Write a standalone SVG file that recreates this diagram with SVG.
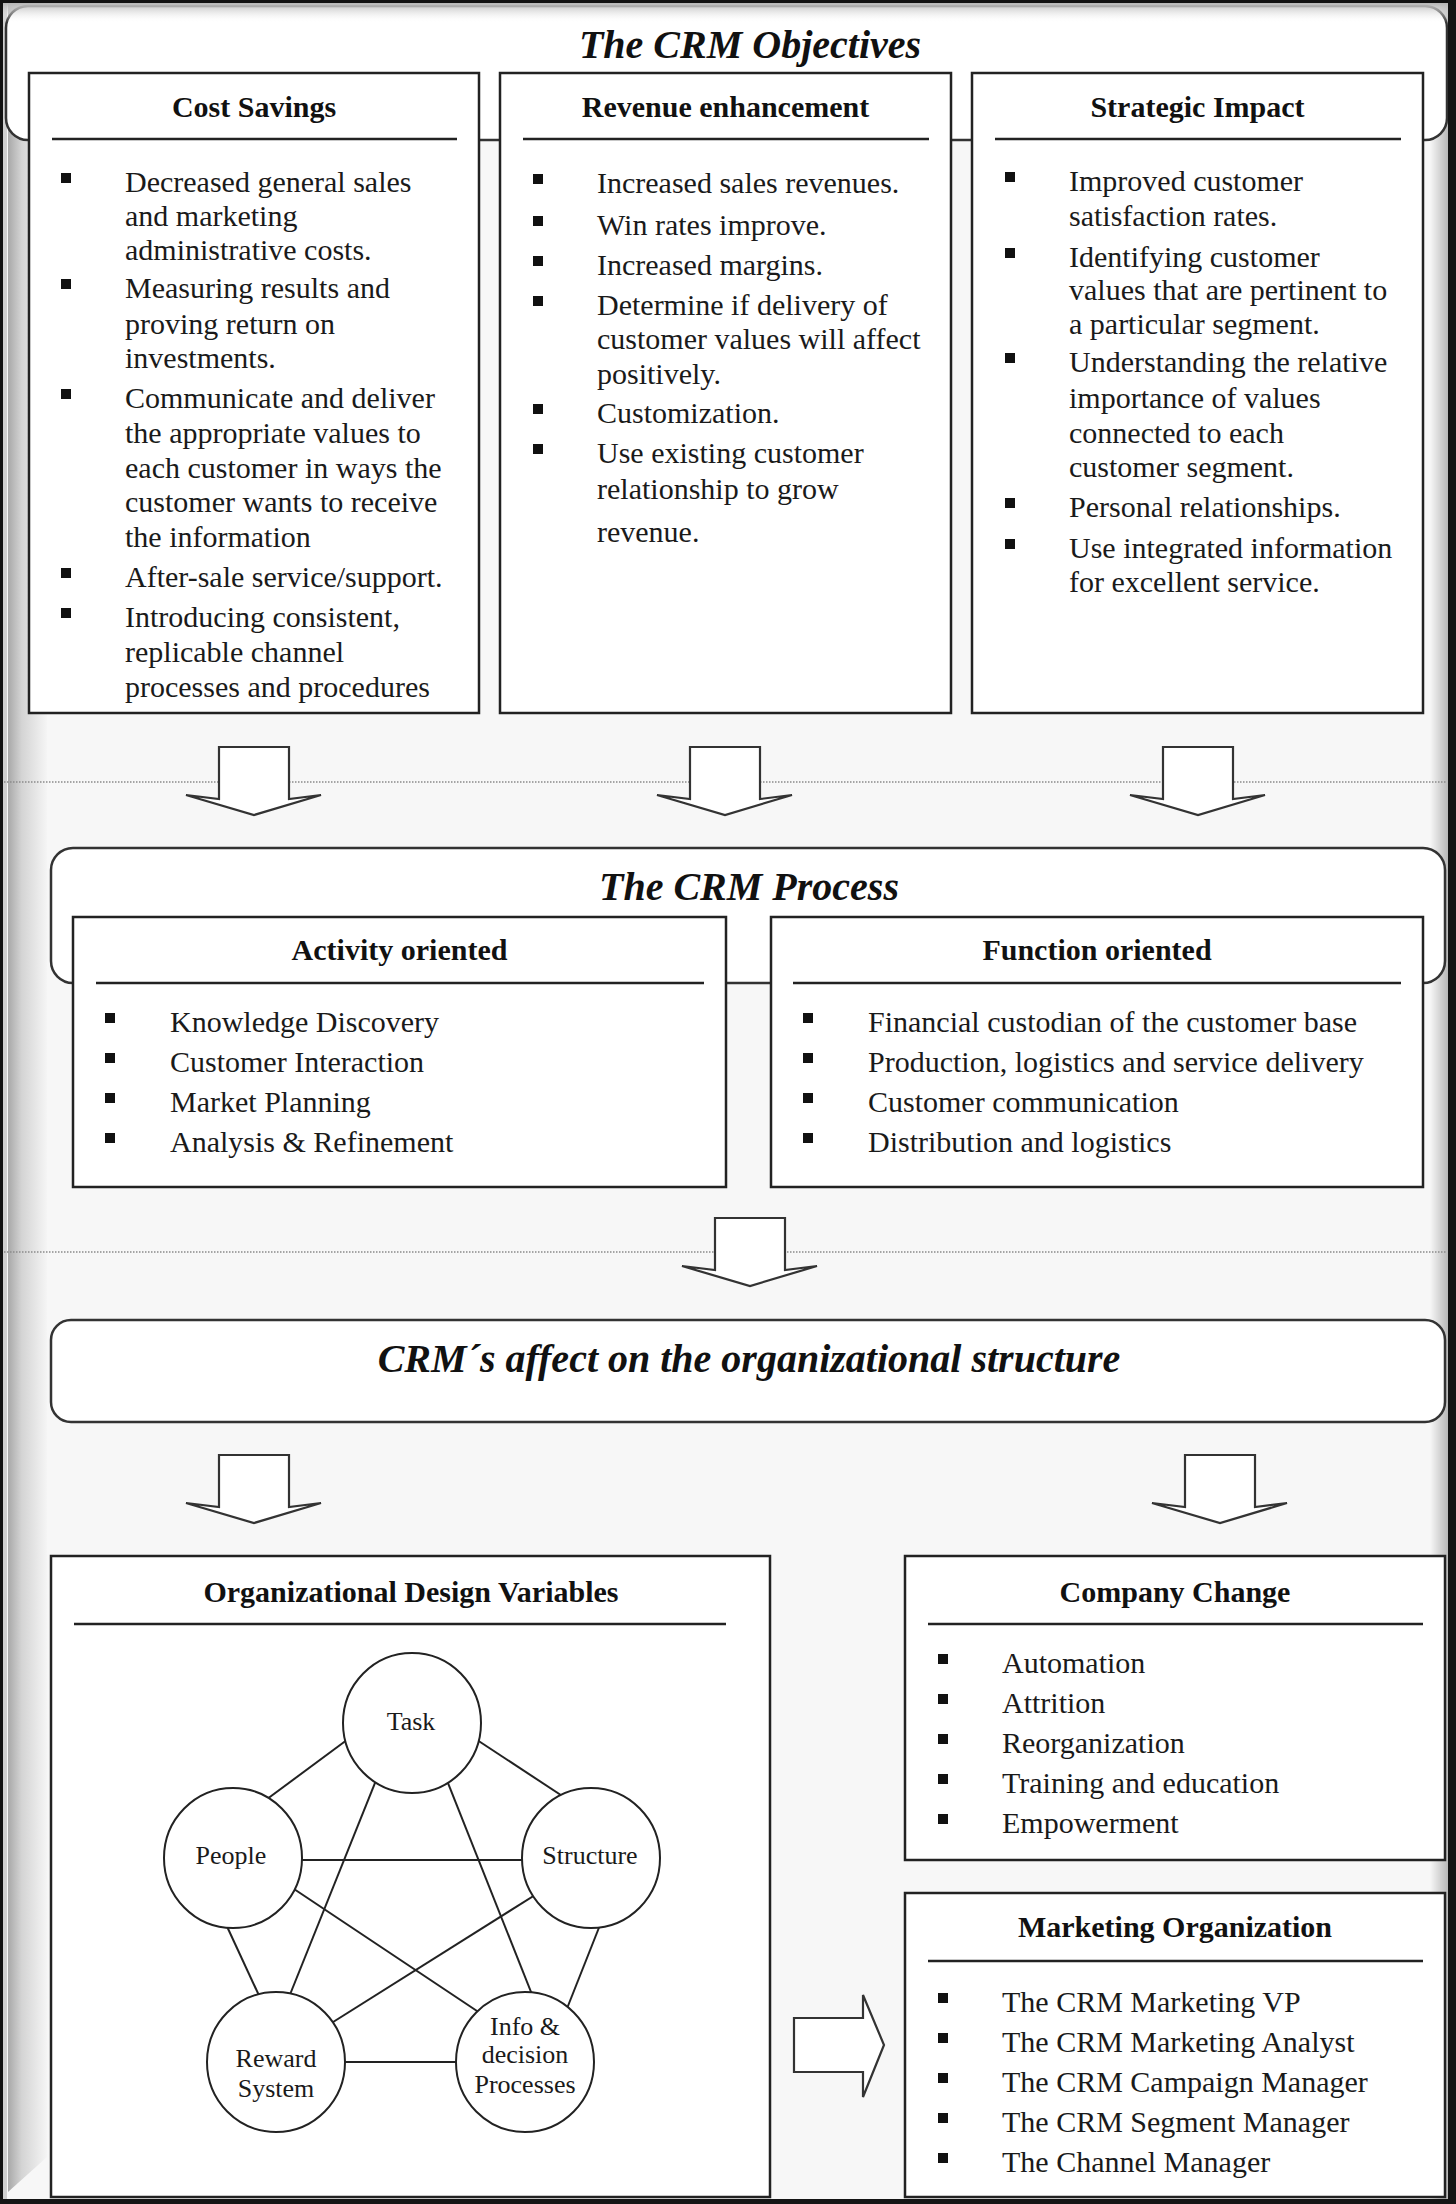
<svg xmlns="http://www.w3.org/2000/svg" width="1456" height="2204" viewBox="0 0 1456 2204">
<defs>
<linearGradient id="lb" x1="0" x2="1" y1="0" y2="0"><stop offset="0" stop-color="#a8a8a8"/><stop offset="0.35" stop-color="#d4d4d4"/><stop offset="1" stop-color="#f5f5f5"/></linearGradient>
<linearGradient id="rb" x1="0" x2="1" y1="0" y2="0"><stop offset="0" stop-color="#f7f7f7"/><stop offset="1" stop-color="#b8b8b8"/></linearGradient>
<linearGradient id="tb" x1="0" x2="0" y1="0" y2="1"><stop offset="0" stop-color="#b5b5b5"/><stop offset="1" stop-color="#ffffff" stop-opacity="0"/></linearGradient>
<rect id="sq" width="10" height="10" fill="#111"/>
<path id="da" d="M-35,0 L35,0 L35,52 L67,48 L0,68 L-68,48 L-35,52 Z" fill="#fff" stroke="#333" stroke-width="2.2" stroke-linejoin="miter"/>
<style>
.box{fill:#fff;stroke:#222;stroke-width:2.5}
.rr{fill:#fff;stroke:#333;stroke-width:2.5}
.hl{stroke:#222;stroke-width:2.5}
text{font-family:"Liberation Serif","Times New Roman",serif;fill:#1a1a1a}
.t{font-size:30px}
.h{font-size:30px;font-weight:bold;text-anchor:middle;fill:#111}
.ti{font-size:40px;font-weight:bold;font-style:italic;text-anchor:middle;fill:#111}
.dot{stroke:#8a8a8a;stroke-width:1.5;stroke-dasharray:1.5 1.5;fill:none}
.c{fill:#fff;stroke:#222;stroke-width:2}
.cl{font-size:26px;text-anchor:middle}
.ln{stroke:#222;stroke-width:2;fill:none}
.arr{fill:#fff;stroke:#333;stroke-width:2.2}
</style>
</defs>

<!-- background and frame bevels -->
<rect x="0" y="0" width="1456" height="2204" fill="#f7f7f7"/>
<rect x="3" y="0" width="4" height="2200" fill="#cfcfcf"/>
<polygon points="8,0 47,0 47,2157 8,2192" fill="url(#lb)"/>
<rect x="1430" y="0" width="18" height="2200" fill="url(#rb)"/>

<!-- dotted separators -->
<line class="dot" x1="4" y1="782" x2="1447" y2="782"/>
<line class="dot" x1="4" y1="1252" x2="1447" y2="1252"/>

<!-- Objectives container -->
<g id="objectives">
<rect class="rr" x="6" y="6" width="1441" height="134" rx="22"/>
<rect x="3" y="3" width="1446" height="20" fill="url(#tb)"/>
<text class="ti" x="750" y="58">The CRM Objectives</text>
</g>

<g id="cost-savings">
<rect class="box" x="29" y="73" width="450" height="640"/>
<text class="h" x="254" y="117">Cost Savings</text>
<line class="hl" x1="52" y1="139" x2="457" y2="139"/>
<use href="#sq" x="61" y="173"/><use href="#sq" x="61" y="279"/><use href="#sq" x="61" y="389"/><use href="#sq" x="61" y="568"/><use href="#sq" x="61" y="608"/>
<text class="t" x="125" y="192">Decreased general sales</text>
<text class="t" x="125" y="226">and marketing</text>
<text class="t" x="125" y="260">administrative costs.</text>
<text class="t" x="125" y="298">Measuring results and</text>
<text class="t" x="125" y="334">proving return on</text>
<text class="t" x="125" y="368">investments.</text>
<text class="t" x="125" y="408">Communicate and deliver</text>
<text class="t" x="125" y="443">the appropriate values to</text>
<text class="t" x="125" y="478">each customer in ways the</text>
<text class="t" x="125" y="512">customer wants to receive</text>
<text class="t" x="125" y="547">the information</text>
<text class="t" x="125" y="587">After-sale service/support.</text>
<text class="t" x="125" y="627">Introducing consistent,</text>
<text class="t" x="125" y="662">replicable channel</text>
<text class="t" x="125" y="697">processes and procedures</text>
</g>

<g id="revenue-enhancement">
<rect class="box" x="500" y="73" width="451" height="640"/>
<text class="h" x="725.5" y="117">Revenue enhancement</text>
<line class="hl" x1="523" y1="139" x2="929" y2="139"/>
<use href="#sq" x="533" y="174"/><use href="#sq" x="533" y="216"/><use href="#sq" x="533" y="256"/><use href="#sq" x="533" y="296"/><use href="#sq" x="533" y="404"/><use href="#sq" x="533" y="444"/>
<text class="t" x="597" y="193">Increased sales revenues.</text>
<text class="t" x="597" y="235">Win rates improve.</text>
<text class="t" x="597" y="275">Increased margins.</text>
<text class="t" x="597" y="315">Determine if delivery of</text>
<text class="t" x="597" y="349">customer values will affect</text>
<text class="t" x="597" y="384">positively.</text>
<text class="t" x="597" y="423">Customization.</text>
<text class="t" x="597" y="463">Use existing customer</text>
<text class="t" x="597" y="499">relationship to grow</text>
<text class="t" x="597" y="542">revenue.</text>
</g>

<g id="strategic-impact">
<rect class="box" x="972" y="73" width="451" height="640"/>
<text class="h" x="1197.5" y="117">Strategic Impact</text>
<line class="hl" x1="995" y1="139" x2="1401" y2="139"/>
<use href="#sq" x="1005" y="172"/><use href="#sq" x="1005" y="248"/><use href="#sq" x="1005" y="353"/><use href="#sq" x="1005" y="498"/><use href="#sq" x="1005" y="539"/>
<text class="t" x="1069" y="191">Improved customer</text>
<text class="t" x="1069" y="226">satisfaction rates.</text>
<text class="t" x="1069" y="267">Identifying customer</text>
<text class="t" x="1069" y="300">values that are pertinent to</text>
<text class="t" x="1069" y="334">a particular segment.</text>
<text class="t" x="1069" y="372">Understanding the relative</text>
<text class="t" x="1069" y="408">importance of values</text>
<text class="t" x="1069" y="443">connected to each</text>
<text class="t" x="1069" y="477">customer segment.</text>
<text class="t" x="1069" y="517">Personal relationships.</text>
<text class="t" x="1069" y="558">Use integrated information</text>
<text class="t" x="1069" y="592">for excellent service.</text>
</g>

<!-- Process container -->
<g id="process">
<rect class="rr" x="51" y="848" width="1394" height="135" rx="22"/>
<text class="ti" x="749" y="900">The CRM Process</text>
</g>

<g id="activity-oriented">
<rect class="box" x="73" y="917" width="653" height="270"/>
<text class="h" x="399.5" y="960">Activity oriented</text>
<line class="hl" x1="96" y1="983" x2="704" y2="983"/>
<use href="#sq" x="105" y="1013"/><use href="#sq" x="105" y="1053"/><use href="#sq" x="105" y="1093"/><use href="#sq" x="105" y="1133"/>
<text class="t" x="170" y="1032">Knowledge Discovery</text>
<text class="t" x="170" y="1072">Customer Interaction</text>
<text class="t" x="170" y="1112">Market Planning</text>
<text class="t" x="170" y="1152">Analysis &amp; Refinement</text>
</g>

<g id="function-oriented">
<rect class="box" x="771" y="917" width="652" height="270"/>
<text class="h" x="1097" y="960">Function oriented</text>
<line class="hl" x1="793" y1="983" x2="1401" y2="983"/>
<use href="#sq" x="803" y="1013"/><use href="#sq" x="803" y="1053"/><use href="#sq" x="803" y="1093"/><use href="#sq" x="803" y="1133"/>
<text class="t" x="868" y="1032">Financial custodian of the customer base</text>
<text class="t" x="868" y="1072">Production, logistics and service delivery</text>
<text class="t" x="868" y="1112">Customer communication</text>
<text class="t" x="868" y="1152">Distribution and logistics</text>
</g>

<g id="crm-affect">
<rect class="rr" x="51" y="1320" width="1394" height="102" rx="20"/>
<text class="ti" x="749" y="1372" font-size="41">CRM&#180;s affect on the organizational structure</text>
</g>

<g id="org-design-variables">
<rect class="box" x="51" y="1556" width="719" height="641"/>
<text class="h" x="411" y="1602">Organizational Design Variables</text>
<line class="hl" x1="74" y1="1624" x2="726" y2="1624"/>
</g>

<g id="company-change">
<rect class="box" x="905" y="1556" width="540" height="304"/>
<text class="h" x="1175" y="1602">Company Change</text>
<line class="hl" x1="928" y1="1624" x2="1423" y2="1624"/>
<use href="#sq" x="938" y="1654"/><use href="#sq" x="938" y="1694"/><use href="#sq" x="938" y="1734"/><use href="#sq" x="938" y="1774"/><use href="#sq" x="938" y="1814"/>
<text class="t" x="1002" y="1673">Automation</text>
<text class="t" x="1002" y="1713">Attrition</text>
<text class="t" x="1002" y="1753">Reorganization</text>
<text class="t" x="1002" y="1793">Training and education</text>
<text class="t" x="1002" y="1833">Empowerment</text>
</g>

<g id="marketing-organization">
<rect class="box" x="905" y="1893" width="540" height="304"/>
<text class="h" x="1175" y="1937">Marketing Organization</text>
<line class="hl" x1="928" y1="1961" x2="1423" y2="1961"/>
<use href="#sq" x="938" y="1993"/><use href="#sq" x="938" y="2033"/><use href="#sq" x="938" y="2073"/><use href="#sq" x="938" y="2113"/><use href="#sq" x="938" y="2153"/>
<text class="t" x="1002" y="2012">The CRM Marketing VP</text>
<text class="t" x="1002" y="2052">The CRM Marketing Analyst</text>
<text class="t" x="1002" y="2092">The CRM Campaign Manager</text>
<text class="t" x="1002" y="2132">The CRM Segment Manager</text>
<text class="t" x="1002" y="2172" fill="#555">The Channel Manager</text>
</g>

<!-- connectors -->
<g id="connectors">
<use href="#da" transform="translate(254,747)"/>
<use href="#da" transform="translate(725,747)"/>
<use href="#da" transform="translate(1198,747)"/>
<use href="#da" transform="translate(750,1218)"/>
<use href="#da" transform="translate(254,1455)"/>
<use href="#da" transform="translate(1220,1455)"/>
<polygon class="arr" points="794,2018 863,2018 863,1995 884,2045 863,2097 863,2072 794,2072"/>
<line class="ln" x1="255" y1="1808" x2="359" y2="1731"/>
<line class="ln" x1="465" y1="1732" x2="576" y2="1805"/>
<line class="ln" x1="290" y1="1860" x2="535" y2="1860"/>
<line class="ln" x1="379" y1="1773" x2="287" y2="2002"/>
<line class="ln" x1="444" y1="1773" x2="535" y2="2002"/>
<line class="ln" x1="285" y1="1883" x2="486" y2="2017"/>
<line class="ln" x1="543" y1="1890" x2="322" y2="2029"/>
<line class="ln" x1="224" y1="1920" x2="262" y2="2002"/>
<line class="ln" x1="602" y1="1920" x2="566" y2="2011"/>
<line class="ln" x1="330" y1="2062" x2="470" y2="2062"/>
</g>

<g id="task"><ellipse class="c" cx="412" cy="1723" rx="69" ry="70"/><text class="cl" x="411" y="1730">Task</text></g>
<g id="people"><ellipse class="c" cx="233" cy="1858" rx="69" ry="70"/><text class="cl" x="231" y="1864">People</text></g>
<g id="structure"><ellipse class="c" cx="591" cy="1858" rx="69" ry="70"/><text class="cl" x="590" y="1864">Structure</text></g>
<g id="reward-system"><ellipse class="c" cx="276" cy="2062" rx="69" ry="70"/><text class="cl" x="276" y="2067">Reward</text><text class="cl" x="276" y="2097">System</text></g>
<g id="info-decision"><ellipse class="c" cx="525" cy="2062" rx="69" ry="70"/><text class="cl" x="525" y="2035">Info &amp;</text><text class="cl" x="525" y="2063">decision</text><text class="cl" x="525" y="2093">Processes</text></g>

<!-- outer frame -->
<rect x="1.5" y="1.5" width="1450" height="2200" fill="none" stroke="#111" stroke-width="3"/>
<rect x="1448" y="0" width="8" height="2204" fill="#151515"/>
<rect x="0" y="2199" width="1456" height="5" fill="#151515"/>
</svg>
